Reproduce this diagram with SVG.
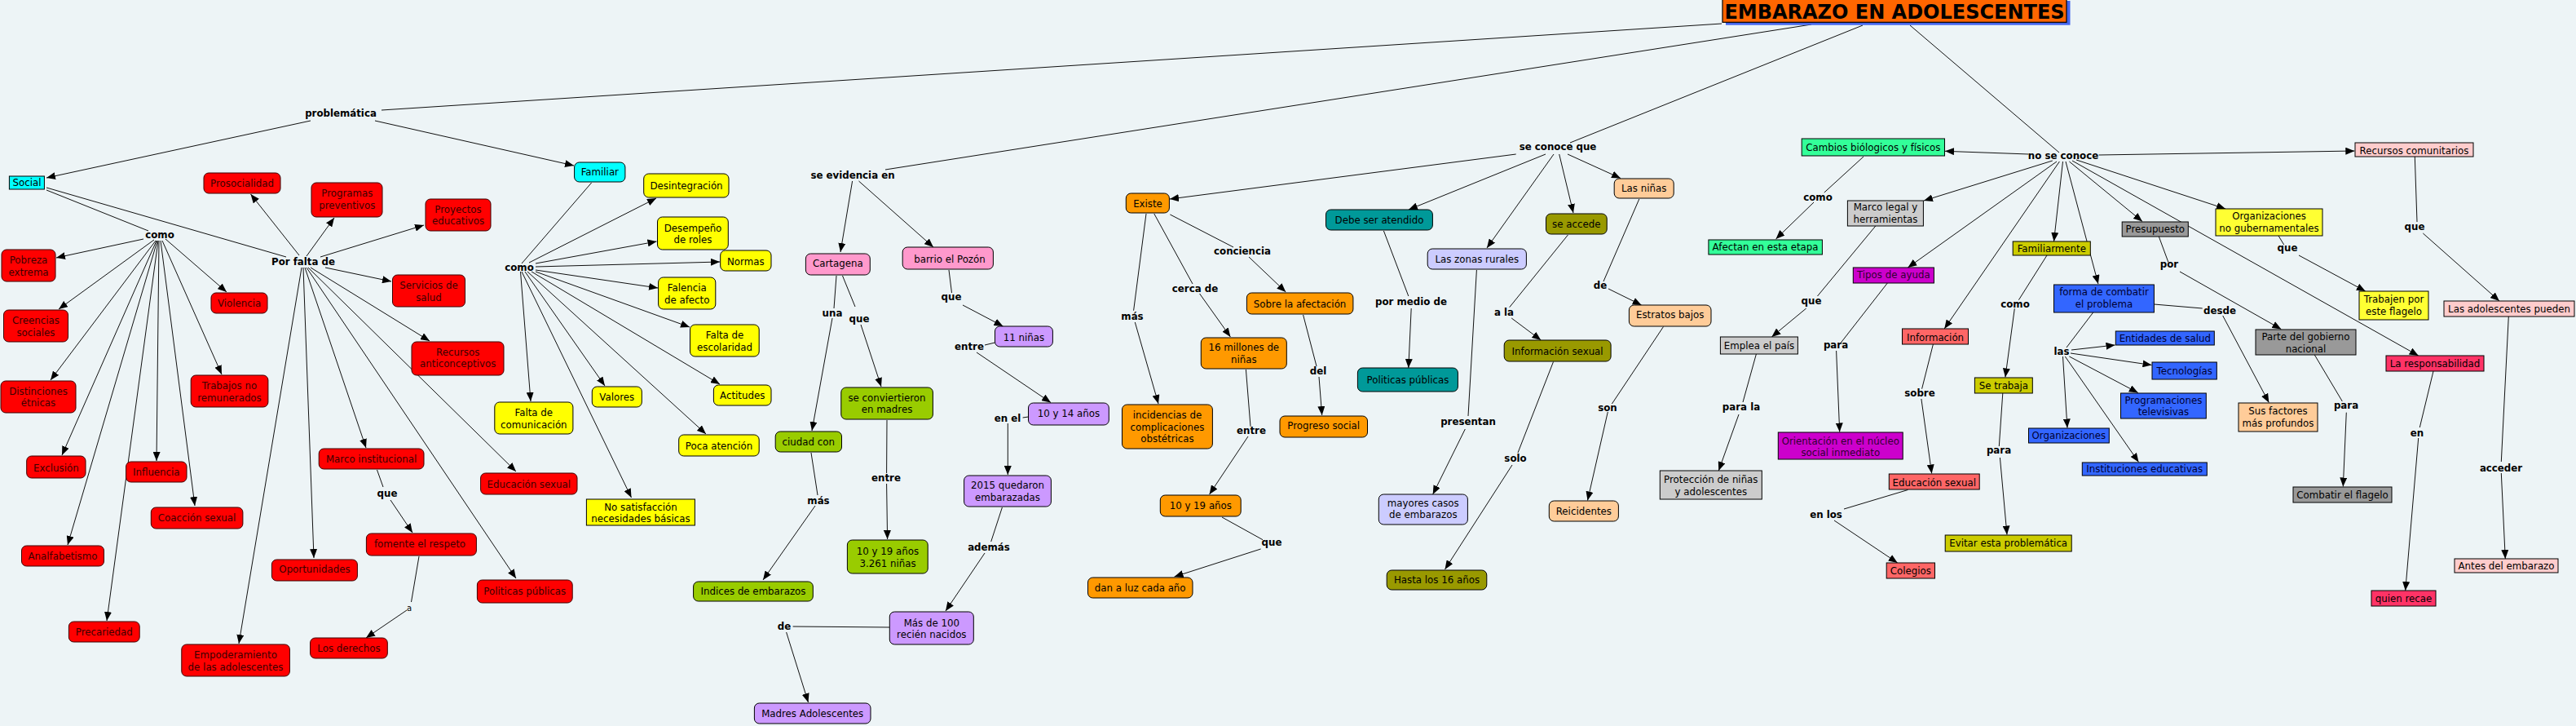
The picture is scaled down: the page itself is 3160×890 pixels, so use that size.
<svg xmlns="http://www.w3.org/2000/svg" width="3160" height="890" viewBox="0 0 3160 890">
<style>
.t{font-family:"DejaVu Sans",Verdana,sans-serif;font-size:11.8px;text-anchor:middle;fill:#000}
.lb{font-family:"DejaVu Sans",Verdana,sans-serif;font-size:11.8px;font-weight:bold;text-anchor:middle;fill:#000}
.sm{font-family:"DejaVu Sans",Verdana,sans-serif;font-size:10px;text-anchor:middle;fill:#000}
.rd rect{fill:#FF0000;stroke:#3a0000;stroke-width:1}
.rd text{fill:#3a0000}
.cy rect{fill:#00FFFF;stroke:#000}
.ye rect{fill:#FFFF00;stroke:#000}
.pk rect{fill:#FF99CC;stroke:#000}
.gr rect{fill:#99CC00;stroke:#000}
.pu rect{fill:#CC99FF;stroke:#000}
.or rect{fill:#FF9900;stroke:#000}
.te rect{fill:#009999;stroke:#000}
.la rect{fill:#CCCCFF;stroke:#000}
.ol rect{fill:#999900;stroke:#000}
.pe rect{fill:#FFCC99;stroke:#000}
.lg rect{fill:#33FF99;stroke:#000}
.g1 rect{fill:#CCCCCC;stroke:#000}
.g2 rect{fill:#999999;stroke:#000}
.mg rect{fill:#CC00CC;stroke:#000}
.mg text{fill:#300030}
.sa rect{fill:#FF6666;stroke:#000}
.yo rect{fill:#CCCC00;stroke:#000}
.bl rect{fill:#3366FF;stroke:#000}
.bl text{fill:#000030}
.y3 rect{fill:#FFFF33;stroke:#000}
.lp rect{fill:#FFCCCC;stroke:#000}
.cr rect{fill:#FF3366;stroke:#000}
#conn line{stroke:#111;stroke-width:1;fill:none}
#conn line.a{marker-end:url(#ah)}
</style>
<defs>
<marker id="ah" markerUnits="userSpaceOnUse" markerWidth="11" markerHeight="9" refX="11" refY="4.5" orient="auto"><path d="M0,0 L11,4.5 L0,9 z" fill="#000"/></marker>
</defs>
<rect x="0" y="0" width="3160" height="890" fill="#EDF4F6"/>

<g id="conn">
<line x1="2112" y1="29" x2="468" y2="135"/>
<line x1="2222" y1="30" x2="1086" y2="208"/>
<line x1="2285" y1="31" x2="1926" y2="175"/>
<line x1="2343" y1="31" x2="2526" y2="187"/>
<line class="a" x1="381" y1="148" x2="57" y2="218"/>
<line class="a" x1="460" y1="148" x2="704" y2="203"/>
<line x1="57" y1="233" x2="182" y2="283"/>
<line x1="57" y1="230" x2="351" y2="315"/>
<line class="a" x1="176" y1="293" x2="69" y2="316"/>
<line class="a" x1="189" y1="294" x2="72" y2="379"/>
<line class="a" x1="191" y1="295" x2="62" y2="466"/>
<line class="a" x1="192" y1="295" x2="76" y2="558"/>
<line class="a" x1="193" y1="295" x2="83" y2="668"/>
<line class="a" x1="194" y1="295" x2="131" y2="761"/>
<line class="a" x1="195" y1="295" x2="192" y2="565"/>
<line class="a" x1="197" y1="295" x2="239" y2="620"/>
<line class="a" x1="199" y1="295" x2="272" y2="459"/>
<line class="a" x1="203" y1="293" x2="278" y2="358"/>
<line class="a" x1="367" y1="313" x2="307.5" y2="238"/>
<line class="a" x1="376" y1="314" x2="410" y2="267"/>
<line class="a" x1="393" y1="315" x2="520" y2="276"/>
<line class="a" x1="399" y1="328" x2="480" y2="345"/>
<line class="a" x1="381" y1="328" x2="527" y2="418"/>
<line class="a" x1="378" y1="328" x2="633" y2="578"/>
<line class="a" x1="376" y1="328" x2="633" y2="709"/>
<line class="a" x1="374" y1="328" x2="449" y2="549"/>
<line class="a" x1="372" y1="328" x2="385" y2="684"/>
<line class="a" x1="370" y1="328" x2="293" y2="789"/>
<line x1="462.5" y1="576" x2="470" y2="597"/>
<line class="a" x1="479" y1="613" x2="506" y2="653"/>
<line x1="514" y1="682" x2="504.5" y2="738"/>
<line class="a" x1="499" y1="748" x2="449" y2="782"/>
<line x1="725.6" y1="224" x2="640" y2="323"/>
<line class="a" x1="649" y1="322" x2="805" y2="243"/>
<line class="a" x1="657" y1="323" x2="805.5" y2="296"/>
<line class="a" x1="657" y1="327" x2="883" y2="321"/>
<line class="a" x1="657" y1="331" x2="807" y2="353"/>
<line class="a" x1="657" y1="333" x2="846" y2="401"/>
<line class="a" x1="652" y1="333" x2="883" y2="471"/>
<line class="a" x1="647" y1="333" x2="866" y2="532"/>
<line class="a" x1="644" y1="333" x2="742" y2="473"/>
<line class="a" x1="640" y1="333" x2="774.5" y2="610"/>
<line class="a" x1="638.5" y1="333" x2="651" y2="492"/>
<line class="a" x1="1045.6" y1="222" x2="1031" y2="309"/>
<line class="a" x1="1053.5" y1="222" x2="1145" y2="303"/>
<line x1="1026" y1="338" x2="1023" y2="378"/>
<line class="a" x1="1021" y1="390" x2="996" y2="528"/>
<line x1="1033.5" y1="338" x2="1049" y2="376"/>
<line class="a" x1="1056" y1="398" x2="1081" y2="474"/>
<line x1="1088" y1="515" x2="1087.6" y2="580"/>
<line class="a" x1="1087.6" y1="593" x2="1088.6" y2="661"/>
<line x1="995" y1="555" x2="1003" y2="607"/>
<line class="a" x1="1000" y1="620" x2="936" y2="711"/>
<line x1="1091" y1="769" x2="972.6" y2="768"/>
<line class="a" x1="964.6" y1="775" x2="991.5" y2="861"/>
<line x1="1164" y1="331" x2="1167.5" y2="359"/>
<line class="a" x1="1181" y1="374" x2="1230.5" y2="400"/>
<line x1="1220.5" y1="420" x2="1208" y2="423"/>
<line class="a" x1="1198" y1="432" x2="1289" y2="493.5"/>
<line x1="1261.5" y1="511" x2="1254.6" y2="512"/>
<line class="a" x1="1236.3" y1="519" x2="1236.3" y2="582"/>
<line x1="1229.4" y1="622" x2="1215.7" y2="664"/>
<line class="a" x1="1208" y1="678" x2="1160" y2="749"/>
<line x1="1406" y1="262" x2="1390.6" y2="380.7"/>
<line class="a" x1="1392.3" y1="395" x2="1421" y2="495"/>
<line x1="1415.8" y1="262" x2="1463" y2="348"/>
<line class="a" x1="1471.6" y1="360" x2="1509.4" y2="413"/>
<line x1="1435.4" y1="263" x2="1513" y2="303"/>
<line class="a" x1="1532" y1="315" x2="1577.3" y2="358"/>
<line x1="1528.4" y1="453" x2="1534" y2="522.7"/>
<line class="a" x1="1531" y1="535" x2="1483.6" y2="606"/>
<line x1="1499" y1="634" x2="1549" y2="661.7"/>
<line class="a" x1="1546.6" y1="673" x2="1440.6" y2="707"/>
<line x1="1598.6" y1="386" x2="1615" y2="449"/>
<line class="a" x1="1618" y1="462" x2="1621.7" y2="509"/>
<line class="a" x1="1859.7" y1="189" x2="1435" y2="244"/>
<line class="a" x1="1896" y1="189" x2="1728" y2="257"/>
<line class="a" x1="1906" y1="189" x2="1824" y2="304"/>
<line class="a" x1="1912.7" y1="189" x2="1930" y2="261"/>
<line class="a" x1="1923" y1="189" x2="1988" y2="218.5"/>
<line x1="1697.4" y1="283" x2="1727.8" y2="363"/>
<line class="a" x1="1731.2" y1="378" x2="1727.8" y2="451"/>
<line x1="1811.4" y1="331" x2="1801" y2="510"/>
<line class="a" x1="1797.3" y1="526" x2="1757.7" y2="606"/>
<line x1="1923.4" y1="288" x2="1851.7" y2="376.7"/>
<line class="a" x1="1854.2" y1="390" x2="1890.3" y2="417"/>
<line x1="1905.5" y1="443.5" x2="1862" y2="555"/>
<line class="a" x1="1855" y1="570" x2="1772.5" y2="698"/>
<line x1="2010.8" y1="244" x2="1967" y2="345"/>
<line class="a" x1="1973" y1="354" x2="2013.6" y2="374"/>
<line x1="2040.5" y1="400.5" x2="1977.4" y2="495"/>
<line class="a" x1="1972.3" y1="505" x2="1947.5" y2="613.5"/>
<line class="a" x1="2488.5" y1="189" x2="2386" y2="185.3"/>
<line class="a" x1="2517.8" y1="197" x2="2360" y2="246"/>
<line class="a" x1="2523" y1="198" x2="2340.4" y2="328"/>
<line class="a" x1="2526.4" y1="198" x2="2385.2" y2="403"/>
<line class="a" x1="2530.5" y1="198" x2="2519.5" y2="296"/>
<line class="a" x1="2534" y1="198" x2="2573.9" y2="348"/>
<line class="a" x1="2538.4" y1="198" x2="2628" y2="271.5"/>
<line class="a" x1="2542" y1="197" x2="2966.7" y2="436"/>
<line class="a" x1="2547" y1="196" x2="2730" y2="256"/>
<line class="a" x1="2574.6" y1="190" x2="2888.3" y2="185"/>
<line x1="2286" y1="192" x2="2237.8" y2="236"/>
<line class="a" x1="2225" y1="248" x2="2178.5" y2="293"/>
<line x1="2300.8" y1="277" x2="2229.5" y2="363"/>
<line class="a" x1="2215.7" y1="378" x2="2173.4" y2="413"/>
<line x1="2154.4" y1="434" x2="2138" y2="493"/>
<line class="a" x1="2133" y1="508" x2="2108.3" y2="577"/>
<line x1="2315.3" y1="347" x2="2257.8" y2="420.7"/>
<line class="a" x1="2252.6" y1="430" x2="2256.7" y2="529.5"/>
<line x1="2371.4" y1="422" x2="2357.6" y2="476.7"/>
<line class="a" x1="2356.9" y1="489" x2="2369.7" y2="580.5"/>
<line x1="2340.4" y1="600.5" x2="2262" y2="624"/>
<line class="a" x1="2250" y1="638" x2="2327.7" y2="690"/>
<line x1="2511" y1="313" x2="2476.4" y2="367.7"/>
<line class="a" x1="2471.3" y1="378.3" x2="2459.9" y2="462.5"/>
<line x1="2456.8" y1="482" x2="2452.3" y2="547"/>
<line class="a" x1="2453.4" y1="561" x2="2462" y2="655.5"/>
<line x1="2567.7" y1="383" x2="2535" y2="426"/>
<line class="a" x1="2541" y1="429" x2="2594.5" y2="423"/>
<line class="a" x1="2540" y1="433" x2="2639.5" y2="447.5"/>
<line class="a" x1="2538.4" y1="437" x2="2622.8" y2="481.5"/>
<line class="a" x1="2530.5" y1="437" x2="2536" y2="524.5"/>
<line class="a" x1="2533.3" y1="437" x2="2623.5" y2="566.5"/>
<line x1="2642.4" y1="373" x2="2701.7" y2="378"/>
<line class="a" x1="2726.7" y1="387" x2="2783.3" y2="493.5"/>
<line x1="2648.3" y1="290" x2="2660" y2="321.7"/>
<line class="a" x1="2674" y1="333" x2="2798.3" y2="403.5"/>
<line x1="2839.3" y1="435" x2="2873.3" y2="492"/>
<line class="a" x1="2878.3" y1="505.7" x2="2874.3" y2="596.5"/>
<line x1="2795" y1="289" x2="2801.7" y2="300"/>
<line class="a" x1="2820" y1="313" x2="2901.7" y2="357"/>
<line x1="2962.3" y1="192" x2="2965" y2="272"/>
<line class="a" x1="2972.3" y1="286" x2="3066" y2="369"/>
<line x1="3077.3" y1="388" x2="3068.3" y2="566"/>
<line class="a" x1="3068.3" y1="580" x2="3073.3" y2="685"/>
<line x1="2985" y1="455" x2="2968.3" y2="524"/>
<line class="a" x1="2966.7" y1="537" x2="2950.7" y2="724"/>
</g>

<g id="labels">
<text class="lb" x="418" y="143">problemática</text>
<text class="lb" x="196" y="292">como</text>
<text class="lb" x="372" y="325">Por falta de</text>
<text class="lb" x="475" y="609">que</text>
<text class="sm" x="502" y="749">a</text>
<text class="lb" x="637" y="332">como</text>
<text class="lb" x="1046" y="219">se evidencia en</text>
<text class="lb" x="1021" y="388">una</text>
<text class="lb" x="1054" y="395">que</text>
<text class="lb" x="1004" y="618">más</text>
<text class="lb" x="962" y="772">de</text>
<text class="lb" x="1087" y="590">entre</text>
<text class="lb" x="1167" y="368">que</text>
<text class="lb" x="1189" y="429">entre</text>
<text class="lb" x="1236" y="517">en el</text>
<text class="lb" x="1213" y="675">además</text>
<text class="lb" x="1524" y="312">conciencia</text>
<text class="lb" x="1466" y="358">cerca de</text>
<text class="lb" x="1389" y="392">más</text>
<text class="lb" x="1535" y="532">entre</text>
<text class="lb" x="1560" y="669">que</text>
<text class="lb" x="1617" y="459">del</text>
<text class="lb" x="1911" y="184">se conoce que</text>
<text class="lb" x="1731" y="374">por medio de</text>
<text class="lb" x="1845" y="387">a la</text>
<text class="lb" x="1963" y="354">de</text>
<text class="lb" x="1801" y="521">presentan</text>
<text class="lb" x="1859" y="566">solo</text>
<text class="lb" x="1972" y="504">son</text>
<text class="lb" x="2531" y="195">no se conoce</text>
<text class="lb" x="2230" y="246">como</text>
<text class="lb" x="2222" y="373">que</text>
<text class="lb" x="2136" y="503">para la</text>
<text class="lb" x="2252" y="427">para</text>
<text class="lb" x="2355" y="486">sobre</text>
<text class="lb" x="2240" y="635">en los</text>
<text class="lb" x="2472" y="377">como</text>
<text class="lb" x="2452" y="556">para</text>
<text class="lb" x="2529" y="435">las</text>
<text class="lb" x="2723" y="385">desde</text>
<text class="lb" x="2661" y="328">por</text>
<text class="lb" x="2878" y="501">para</text>
<text class="lb" x="2806" y="308">que</text>
<text class="lb" x="2962" y="282">que</text>
<text class="lb" x="3068" y="578">acceder</text>
<text class="lb" x="2965" y="535">en</text>
</g>

<g id="title">
<rect x="2117" y="1" width="422.5" height="29.7" fill="#4466EE"/>
<rect x="2113" y="-2" width="422" height="29.3" fill="#FF6600" stroke="#000" stroke-width="1.2"/>
<text x="2324" y="23" style="font-family:'DejaVu Sans',Verdana,sans-serif;font-size:24px;font-weight:bold;text-anchor:middle" fill="#000">EMBARAZO EN ADOLESCENTES</text>
</g>

<g id="social" class="cy"><rect x="11.4" y="216" width="43" height="16"/><text class="t" x="33" y="228">Social</text></g>
<g id="familiar" class="cy"><rect x="704.6" y="199" width="62.3" height="24" rx="6"/><text class="t" x="735.8" y="215">Familiar</text></g>

<g id="prosocialidad" class="rd"><rect x="250" y="212" width="94" height="25" rx="6"/><text class="t" x="297" y="228.5">Prosocialidad</text></g>
<g id="programas" class="rd"><rect x="382" y="224" width="87" height="42" rx="6"/><text class="t" x="425.8" y="241">Programas</text><text class="t" x="425.8" y="255.5">preventivos</text></g>
<g id="proyectos" class="rd"><rect x="522" y="244" width="80" height="39" rx="6"/><text class="t" x="562" y="260.5">Proyectos</text><text class="t" x="562" y="275">educativos</text></g>
<g id="pobreza" class="rd"><rect x="2" y="306" width="66" height="39" rx="6"/><text class="t" x="35" y="323">Pobreza</text><text class="t" x="35" y="337.5">extrema</text></g>
<g id="creencias" class="rd"><rect x="4.5" y="380" width="79" height="39" rx="6"/><text class="t" x="44" y="397">Creencias</text><text class="t" x="44" y="411.5">sociales</text></g>
<g id="violencia" class="rd"><rect x="259" y="359" width="69" height="25" rx="6"/><text class="t" x="293.6" y="376">Violencia</text></g>
<g id="servicios" class="rd"><rect x="481.5" y="337" width="89" height="39" rx="6"/><text class="t" x="526" y="354">Servicios de</text><text class="t" x="526" y="368.5">salud</text></g>
<g id="recursos" class="rd"><rect x="505" y="419" width="113" height="41" rx="6"/><text class="t" x="561.7" y="436">Recursos</text><text class="t" x="561.7" y="450">anticonceptivos</text></g>
<g id="distinciones" class="rd"><rect x="1" y="467" width="92" height="39" rx="6"/><text class="t" x="47" y="483.5">Distinciones</text><text class="t" x="47" y="498">étnicas</text></g>
<g id="exclusion" class="rd"><rect x="32.7" y="559" width="72.3" height="27" rx="6"/><text class="t" x="68.9" y="577.5">Exclusión</text></g>
<g id="analfabetismo" class="rd"><rect x="26.5" y="669" width="101" height="25" rx="6"/><text class="t" x="77" y="686">Analfabetismo</text></g>
<g id="precariedad" class="rd"><rect x="84.4" y="762" width="86.8" height="25" rx="6"/><text class="t" x="127.8" y="778.5">Precariedad</text></g>
<g id="influencia" class="rd"><rect x="154.6" y="566" width="74.4" height="25" rx="6"/><text class="t" x="191.8" y="582.5">Influencia</text></g>
<g id="coaccion" class="rd"><rect x="185.3" y="622" width="112.6" height="26" rx="6"/><text class="t" x="241.6" y="639">Coacción sexual</text></g>
<g id="trabajos" class="rd"><rect x="234.2" y="460" width="94.7" height="39" rx="6"/><text class="t" x="281.5" y="477">Trabajos no</text><text class="t" x="281.5" y="491.5">remunerados</text></g>
<g id="empoderamiento" class="rd"><rect x="222.8" y="790" width="132.6" height="39" rx="6"/><text class="t" x="289" y="807">Empoderamiento</text><text class="t" x="289" y="821.5">de las adolescentes</text></g>
<g id="oportunidades" class="rd"><rect x="333.4" y="686" width="105" height="26" rx="6"/><text class="t" x="386" y="702">Oportunidades</text></g>
<g id="marcoinst" class="rd"><rect x="391.2" y="550" width="128.8" height="25" rx="6"/><text class="t" x="455.6" y="567">Marco institucional</text></g>
<g id="fomente" class="rd"><rect x="449.4" y="654" width="135" height="27" rx="6"/><text class="t" x="515" y="671">fomente el respeto</text></g>
<g id="derechos" class="rd"><rect x="380.6" y="782" width="94.7" height="25" rx="6"/><text class="t" x="428" y="799">Los derechos</text></g>
<g id="edsexred" class="rd"><rect x="589.6" y="580" width="118.4" height="26" rx="6"/><text class="t" x="648.8" y="597.5">Educación sexual</text></g>
<g id="politicasred" class="rd"><rect x="585.4" y="711" width="116.8" height="28" rx="6"/><text class="t" x="643.8" y="728.5">Politicas públicas</text></g>

<g id="desintegracion" class="ye"><rect x="789.7" y="213" width="104.3" height="29" rx="6"/><text class="t" x="842" y="231.5">Desintegración</text></g>
<g id="desempeno" class="ye"><rect x="806.5" y="266" width="86.8" height="40" rx="6"/><text class="t" x="850" y="283.5">Desempeño</text><text class="t" x="850" y="298">de roles</text></g>
<g id="normas" class="ye"><rect x="883.7" y="307" width="62.3" height="25" rx="6"/><text class="t" x="914.8" y="325">Normas</text></g>
<g id="falencia" class="ye"><rect x="807.6" y="340" width="70.2" height="39" rx="6"/><text class="t" x="842.7" y="357">Falencia</text><text class="t" x="842.7" y="371.5">de afecto</text></g>
<g id="escolaridad" class="ye"><rect x="846.5" y="398" width="84.7" height="39" rx="6"/><text class="t" x="889" y="415">Falta de</text><text class="t" x="889" y="429.5">escolaridad</text></g>
<g id="valores" class="ye"><rect x="726.3" y="474" width="61" height="25" rx="6"/><text class="t" x="756.8" y="491">Valores</text></g>
<g id="actitudes" class="ye"><rect x="875.4" y="472" width="70.6" height="25" rx="6"/><text class="t" x="910.7" y="489">Actitudes</text></g>
<g id="comunicacion" class="ye"><rect x="606.8" y="493" width="96.1" height="39" rx="6"/><text class="t" x="654.8" y="510">Falta de</text><text class="t" x="654.8" y="524.5">comunicación</text></g>
<g id="poca" class="ye"><rect x="832.7" y="533" width="98.5" height="26" rx="6"/><text class="t" x="882" y="551">Poca atención</text></g>
<g id="nosatisf" class="ye"><rect x="719.4" y="612" width="133" height="32"/><text class="t" x="786" y="626">No satisfacción</text><text class="t" x="786" y="640">necesidades básicas</text></g>

<g id="cartagena" class="pk"><rect x="988.4" y="311" width="78.9" height="26" rx="6"/><text class="t" x="1027.8" y="327">Cartagena</text></g>
<g id="barrio" class="pk"><rect x="1107.2" y="303" width="111.2" height="27" rx="6"/><text class="t" x="1165" y="321.5">barrio el Pozón</text></g>

<g id="ciudadcon" class="gr"><rect x="951.2" y="529" width="81.3" height="25" rx="6"/><text class="t" x="991.8" y="546">ciudad con</text></g>
<g id="indices" class="gr"><rect x="850.6" y="713" width="146.7" height="24" rx="6"/><text class="t" x="924" y="729">Indices de embarazos</text></g>
<g id="conviertieron" class="gr"><rect x="1031.8" y="475" width="112.6" height="39" rx="6"/><text class="t" x="1088" y="491.5">se conviertieron</text><text class="t" x="1088" y="506">en madres</text></g>
<g id="n10y19g" class="gr"><rect x="1039.4" y="662" width="98.8" height="41" rx="6"/><text class="t" x="1089" y="680">10 y 19 años</text><text class="t" x="1089" y="695">3.261 niñas</text></g>

<g id="madres" class="pu"><rect x="925.4" y="862" width="142.6" height="25" rx="6"/><text class="t" x="996.7" y="879">Madres Adolescentes</text></g>
<g id="n11ninas" class="pu"><rect x="1220.5" y="400" width="70.9" height="25" rx="6"/><text class="t" x="1256" y="417.5">11 niñas</text></g>
<g id="n10y14" class="pu"><rect x="1261.5" y="494" width="98.8" height="27" rx="6"/><text class="t" x="1311" y="511">10 y 14 años</text></g>
<g id="n2015" class="pu"><rect x="1182.6" y="583" width="106.8" height="38" rx="6"/><text class="t" x="1236" y="599">2015 quedaron</text><text class="t" x="1236" y="613.5">embarazadas</text></g>
<g id="masde100" class="pu"><rect x="1091.3" y="750" width="103" height="40" rx="6"/><text class="t" x="1142.8" y="767.5">Más de 100</text><text class="t" x="1142.8" y="782">recién nacidos</text></g>

<g id="existe" class="or"><rect x="1381.3" y="237" width="53.1" height="24" rx="6"/><text class="t" x="1408" y="253.5">Existe</text></g>
<g id="sobre" class="or"><rect x="1529.4" y="359" width="130.5" height="26" rx="6"/><text class="t" x="1594.6" y="376.5">Sobre la afectación</text></g>
<g id="millones" class="or"><rect x="1473.3" y="414" width="105" height="38" rx="6"/><text class="t" x="1525.8" y="430">16 millones de</text><text class="t" x="1525.8" y="444.5">niñas</text></g>
<g id="incidencias" class="or"><rect x="1376.5" y="496" width="110.9" height="54" rx="6"/><text class="t" x="1432" y="513">incidencias de</text><text class="t" x="1432" y="527.5">complicaciones</text><text class="t" x="1432" y="542">obstétricas</text></g>
<g id="n10y19o" class="or"><rect x="1423.3" y="607" width="98.9" height="26" rx="6"/><text class="t" x="1472.8" y="623.5">10 y 19 años</text></g>
<g id="danaluz" class="or"><rect x="1334.5" y="708" width="128.5" height="25" rx="6"/><text class="t" x="1398.7" y="725">dan a luz cada año</text></g>
<g id="progreso" class="or"><rect x="1570" y="510" width="107.5" height="26" rx="6"/><text class="t" x="1623.7" y="526">Progreso social</text></g>

<g id="debe" class="te"><rect x="1626.5" y="257" width="130.9" height="25" rx="6"/><text class="t" x="1692" y="273.5">Debe ser atendido</text></g>
<g id="politicaste" class="te"><rect x="1665.4" y="451" width="123" height="29" rx="6"/><text class="t" x="1727" y="470">Politicas públicas</text></g>
<g id="zonas" class="la"><rect x="1751.2" y="305" width="121.2" height="25" rx="6"/><text class="t" x="1811.8" y="322">Las zonas rurales</text></g>
<g id="mayores" class="la"><rect x="1691.3" y="606" width="109.1" height="37" rx="6"/><text class="t" x="1745.8" y="621">mayores casos</text><text class="t" x="1745.8" y="635.3">de embarazos</text></g>
<g id="seaccede" class="ol"><rect x="1896.5" y="262" width="74.7" height="25" rx="6"/><text class="t" x="1933.8" y="279">se accede</text></g>
<g id="infosex" class="ol"><rect x="1845.2" y="417" width="130.9" height="26" rx="6"/><text class="t" x="1910.6" y="434.5">Información sexual</text></g>
<g id="hasta" class="ol"><rect x="1701.2" y="699" width="122.6" height="24" rx="6"/><text class="t" x="1762.5" y="715.3">Hasta los 16 años</text></g>
<g id="lasninas" class="pe"><rect x="1980.2" y="219" width="73" height="24" rx="6"/><text class="t" x="2016.7" y="235.3">Las niñas</text></g>
<g id="estratos" class="pe"><rect x="1998.4" y="374" width="100.6" height="26" rx="6"/><text class="t" x="2048.7" y="390">Estratos bajos</text></g>
<g id="reicidentes" class="pe"><rect x="1900.3" y="614" width="85.1" height="25" rx="6"/><text class="t" x="1942.8" y="631">Reicidentes</text></g>

<g id="cambios" class="lg"><rect x="2210.2" y="170" width="175.3" height="21"/><text class="t" x="2297.8" y="184.5">Cambios biólogicos y físicos</text></g>
<g id="afectan" class="lg"><rect x="2095.9" y="294" width="139.5" height="18"/><text class="t" x="2165.6" y="306.5">Afectan en esta etapa</text></g>
<g id="marcolegal" class="g1"><rect x="2266.4" y="246" width="93" height="31"/><text class="t" x="2313" y="258.3">Marco legal y</text><text class="t" x="2313" y="272.5">herramientas</text></g>
<g id="emplea" class="g1"><rect x="2110.4" y="413" width="95" height="21"/><text class="t" x="2158" y="427.5">Emplea el país</text></g>
<g id="proteccion" class="g1"><rect x="2036.3" y="577" width="125" height="35"/><text class="t" x="2098.8" y="591.5">Protección de niñas</text><text class="t" x="2098.8" y="606.5">y adolescentes</text></g>
<g id="tipos" class="mg"><rect x="2273.3" y="328" width="99.1" height="19"/><text class="t" x="2322.8" y="341">Tipos de ayuda</text></g>
<g id="orientacion" class="mg"><rect x="2181.3" y="530" width="152.9" height="33"/><text class="t" x="2257.8" y="544.5">Orientación en el núcleo</text><text class="t" x="2257.8" y="559.3">social inmediato</text></g>
<g id="informacion" class="sa"><rect x="2333.5" y="403" width="81" height="19"/><text class="t" x="2374" y="417.5">Información</text></g>
<g id="edsexsa" class="sa"><rect x="2317.3" y="581" width="110.9" height="19"/><text class="t" x="2372.8" y="595.8">Educación sexual</text></g>
<g id="colegios" class="sa"><rect x="2314.2" y="690" width="59.3" height="19"/><text class="t" x="2343.9" y="703.5">Colegios</text></g>
<g id="familiarmente" class="yo"><rect x="2469.2" y="296" width="95.1" height="17"/><text class="t" x="2516.8" y="309">Familiarmente</text></g>
<g id="setrabaja" class="yo"><rect x="2422.4" y="463" width="70.9" height="19"/><text class="t" x="2457.9" y="476.5">Se trabaja</text></g>
<g id="evitar" class="yo"><rect x="2386.2" y="656" width="155" height="20"/><text class="t" x="2463.7" y="670">Evitar esta problemática</text></g>
<g id="forma" class="bl"><rect x="2519.5" y="349" width="122.9" height="34"/><text class="t" x="2581" y="362">forma de combatir</text><text class="t" x="2581" y="376.5">el problema</text></g>
<g id="entidades" class="bl"><rect x="2595.3" y="406" width="121" height="17"/><text class="t" x="2655.8" y="419">Entidades de salud</text></g>
<g id="tecnologias" class="bl"><rect x="2640" y="444" width="79.3" height="21"/><text class="t" x="2679.7" y="459">Tecnologías</text></g>
<g id="programaciones" class="bl"><rect x="2601.5" y="482" width="104.8" height="31"/><text class="t" x="2653.9" y="495">Programaciones</text><text class="t" x="2653.9" y="509.3">televisivas</text></g>
<g id="organizaciones" class="bl"><rect x="2488.5" y="525" width="98.8" height="18"/><text class="t" x="2537.9" y="537.5">Organizaciones</text></g>
<g id="instituciones" class="bl"><rect x="2554.3" y="567" width="153" height="16"/><text class="t" x="2630.8" y="579">Instituciones educativas</text></g>
<g id="presupuesto" class="g2"><rect x="2603.2" y="272" width="81.1" height="18"/><text class="t" x="2643.8" y="285">Presupuesto</text></g>
<g id="parte" class="g2"><rect x="2767" y="404" width="123" height="31"/><text class="t" x="2828.5" y="417.3">Parte del gobierno</text><text class="t" x="2828.5" y="431.5">nacional</text></g>
<g id="combatir" class="g2"><rect x="2813" y="597" width="121" height="19"/><text class="t" x="2873.5" y="610.5">Combatir el flagelo</text></g>
<g id="ong" class="y3"><rect x="2718" y="256" width="131" height="33"/><text class="t" x="2783.5" y="269">Organizaciones</text><text class="t" x="2783.5" y="283.5">no gubernamentales</text></g>
<g id="trabajen" class="y3"><rect x="2894" y="357" width="85" height="35"/><text class="t" x="2936.5" y="371">Trabajen por</text><text class="t" x="2936.5" y="385.5">este flagelo</text></g>
<g id="factores" class="pe"><rect x="2746" y="494" width="97" height="35"/><text class="t" x="2794.5" y="508.3">Sus factores</text><text class="t" x="2794.5" y="523">más profundos</text></g>
<g id="recursoscom" class="lp"><rect x="2889" y="175" width="145" height="17"/><text class="t" x="2961.5" y="188.5">Recursos comunitarios</text></g>
<g id="pueden" class="lp"><rect x="2998" y="369" width="160" height="19"/><text class="t" x="3078" y="382.5">Las adolescentes pueden</text></g>
<g id="antes" class="lp"><rect x="3011" y="685" width="127" height="17"/><text class="t" x="3074.5" y="698.3">Antes del embarazo</text></g>
<g id="responsabilidad" class="cr"><rect x="2927" y="436" width="120" height="19"/><text class="t" x="2987" y="449.5">La responsabilidad</text></g>
<g id="quien" class="cr"><rect x="2909" y="724" width="79" height="19"/><text class="t" x="2948.5" y="737.5">quien recae</text></g>
</svg>
